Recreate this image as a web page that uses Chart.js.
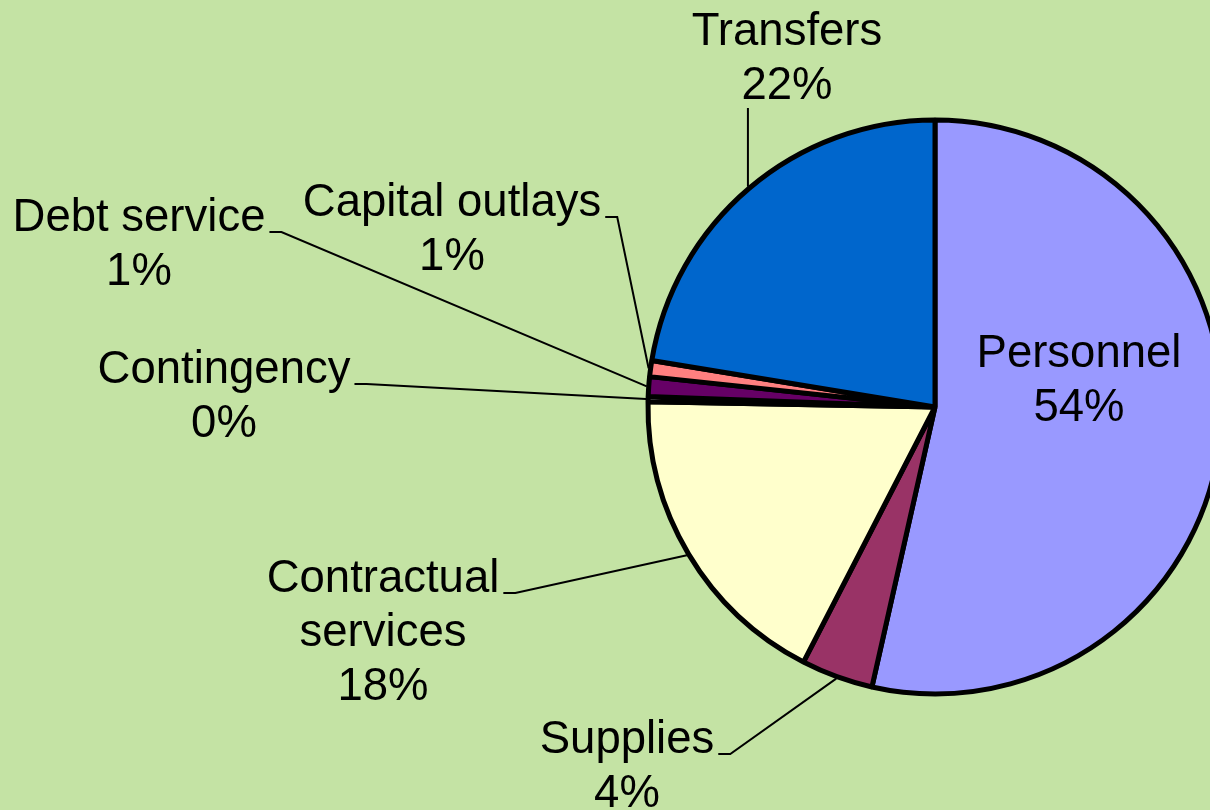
<!DOCTYPE html>
<html>
<head>
<meta charset="utf-8">
<script src="https://cdn.jsdelivr.net/npm/chart.js@4.4.0/dist/chart.umd.min.js"></script>
<style>
  html, body { margin: 0; padding: 0; overflow: hidden; background: #c4e3a4; }
  #wrap { width: 1240px; height: 810px; }
</style>
</head>
<body>
<div id="wrap"><canvas id="chart" width="1240" height="810"></canvas></div>
<script>
// slices clockwise from 12 o'clock
const categories = ["Personnel", "Supplies", "Contractual services", "Contingency", "Debt service", "Capital outlays", "Transfers"];
const shares = [53.5, 4.05, 17.7, 0.3, 1.1, 0.9, 22.4];
// how each category name is broken into lines on the chart
const labelLines = [["Personnel"], ["Supplies"], ["Contractual", "services"], ["Contingency"], ["Debt service"], ["Capital outlays"], ["Transfers"]];

const sliceColors = ["#9999ff", "#993366", "#ffffcc", "#ffffff", "#660066", "#ff8080", "#0066cc"];

// text spot (center x, first baseline) and kind of leader line for each label
const labelPlaces = [
  { x: 1079, y: 367 },
  { x: 627, y: 753, leader: "side" },
  { x: 383, y: 592, leader: "side" },
  { x: 224, y: 383, leader: "side" },
  { x: 139, y: 231, leader: "side" },
  { x: 452, y: 216, leader: "side" },
  { x: 787, y: 45, leader: "up" },
];

const LINE_H = 54;

const labelPlugin = {
  id: "pieLabels",
  afterDatasetsDraw(chart, args, opts) {
    const ctx = chart.ctx;
    const meta = chart.getDatasetMeta(0);
    const total = shares.reduce((a, b) => a + b, 0);
    ctx.save();
    ctx.font = "45.5px 'Liberation Sans', Arial, sans-serif";
    ctx.fillStyle = "#000";
    ctx.strokeStyle = "#000";
    ctx.lineWidth = 2;
    ctx.textAlign = "center";
    ctx.textBaseline = "alphabetic";
    meta.data.forEach((arc, i) => {
      const p = opts.places[i];
      const lines = labelLines[i].concat(Math.round((shares[i] / total) * 100) + "%");
      lines.forEach((t, k) => ctx.fillText(t, p.x, p.y + k * LINE_H));
      if (!p.leader) return;
      //leader line ends on the rim at the middle of the slice
      const { x, y, startAngle, endAngle, outerRadius } = arc.getProps(["x", "y", "startAngle", "endAngle", "outerRadius"], true);
      const mid = (startAngle + endAngle) / 2;
      const r = outerRadius + 2;
      const ex = x + Math.cos(mid) * r;
      const ey = y + Math.sin(mid) * r;
      ctx.beginPath();
      if (p.leader === "up") {
        ctx.moveTo(ex, p.y + (lines.length - 1) * LINE_H + 9);
        ctx.lineTo(ex, ey);
      } else {
        const w = ctx.measureText(lines[0]).width;
        const sx = p.x + w / 2 + 4;
        ctx.moveTo(sx, p.y + 1);
        ctx.lineTo(sx + 12, p.y + 1);
        ctx.lineTo(ex, ey);
      }
      ctx.stroke();
    });
    ctx.restore();
  },
};

new Chart(document.getElementById("chart"), {
  type: "pie",
  data: {
    labels: categories,
    datasets: [
      {
        data: shares,
        backgroundColor: sliceColors,
        borderColor: "#000",
        borderWidth: 5,
      },
    ],
  },
  options: {
    responsive: false,
    animation: false,
    radius: 287,
    layout: { padding: { left: 647, right: 17, top: 119, bottom: 115 } },
    plugins: {
      legend: { display: false },
      tooltip: { enabled: false },
      pieLabels: { places: labelPlaces },
    },
  },
  plugins: [labelPlugin],
});
</script>
</body>
</html>
